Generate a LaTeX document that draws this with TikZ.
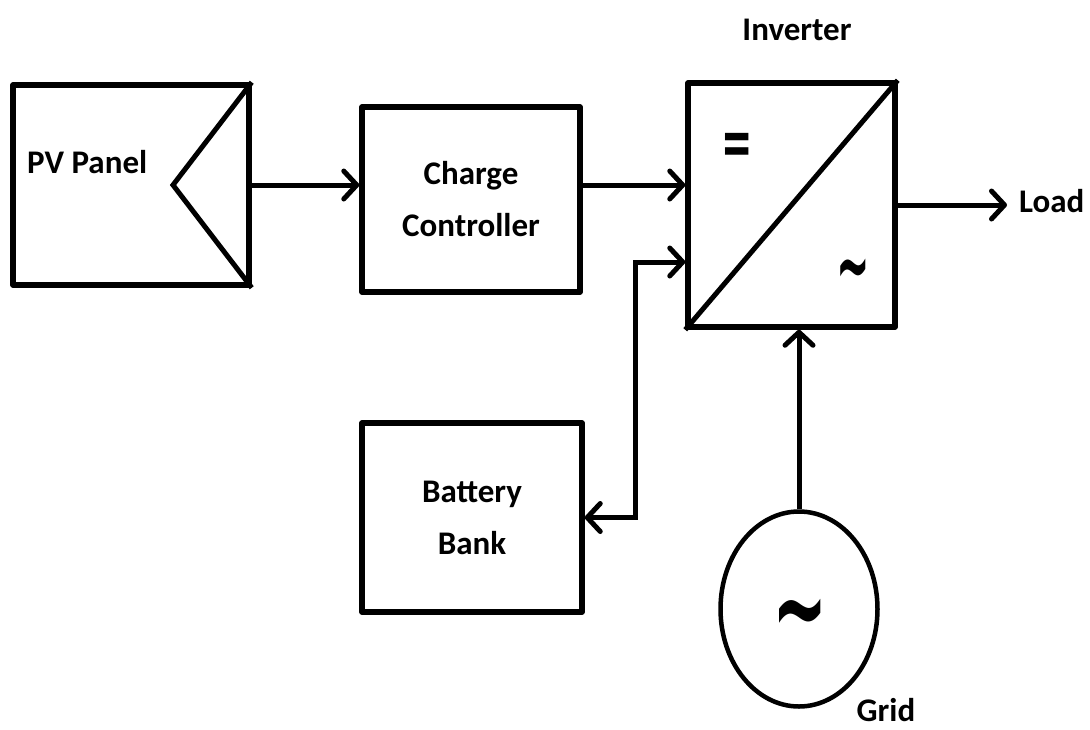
\documentclass[tikz,border=0pt]{standalone}
\usepackage{fontspec}
\setmainfont{Carlito}
\newfontfamily\symfont{DejaVu Sans}
\usetikzlibrary{arrows.meta,shapes.geometric}
\begin{document}
\begin{tikzpicture}[x=1pt,y=-1pt,
  blk/.style={draw,line width=5.5pt,line join=round,minimum width=#1,inner sep=0pt,font=\fontsize{33}{52}\selectfont\bfseries,align=center},
  lbl/.style={font=\fontsize{33}{40}\selectfont\bfseries,inner sep=0pt},
  arr/.style={line width=5pt,-{Straight Barb[length=13pt,width=28pt,line cap=round,line join=round]}},
  darr/.style={line width=5pt,{Straight Barb[length=13pt,width=28pt,line cap=round,line join=round]}-{Straight Barb[length=13pt,width=28pt,line cap=round,line join=round]}}]
\useasboundingbox (0,0) rectangle (1090,729);
\node[blk=236pt,minimum height=200pt] (pv) at (131,185) {};
\node[lbl,anchor=west] (pvt) at (27,162) {PV Panel};
\draw[line width=5pt,line join=miter] (pv.north east) -- (173,185) -- (pv.south east);
\node[blk=218pt,minimum height=185pt] (cc) at (471,199.5) {Charge\\Controller};
\node[blk=207pt,minimum height=244pt] (inv) at (791.5,205) {};
\draw[line width=5pt] (inv.south west) -- (inv.north east);
\node[lbl] (eq) at (737,149) {\symfont\bfseries\fontsize{34}{34}\selectfont\scalebox{1.1}[1.9]{=}};
\node[lbl] (ac) at (853,277) {\symfont\bfseries\fontsize{40}{40}\selectfont\scalebox{1}[2.2]{\char`\~}};
\node[lbl] (invt) at (797,30) {Inverter};
\node[blk=220pt,minimum height=189pt] (bat) at (472,517.5) {Battery\\Bank};
\node[draw,ellipse,line width=4.5pt,minimum width=157pt,minimum height=195pt,inner sep=0pt] (grid) at (799,609) {};
\node[lbl] (gs) at (800,624) {\symfont\bfseries\fontsize{66}{66}\selectfont\scalebox{1}[1.8]{\char`\~}};
\node[lbl,anchor=base] (gridt) at (886,721) {Grid};
\node[lbl,anchor=west] (load) at (1019,201) {Load};
\coordinate (lt) at (1007,205);
\draw[arr] (pv.east) -- (cc.west |- pv.east);
\draw[arr] (cc.east |- pv.east) -- (inv.west |- pv.east);
\draw[arr] (inv.east) -- (lt);
\coordinate (jt) at (635,262);
\coordinate (jb) at (635,517.5);
\draw[darr,line join=miter] (bat.east) -- (jb) -- (jt) -- (inv.west |- jt);
\draw[arr] (grid.north) -- (grid.north |- inv.south);
\end{tikzpicture}
\end{document}
